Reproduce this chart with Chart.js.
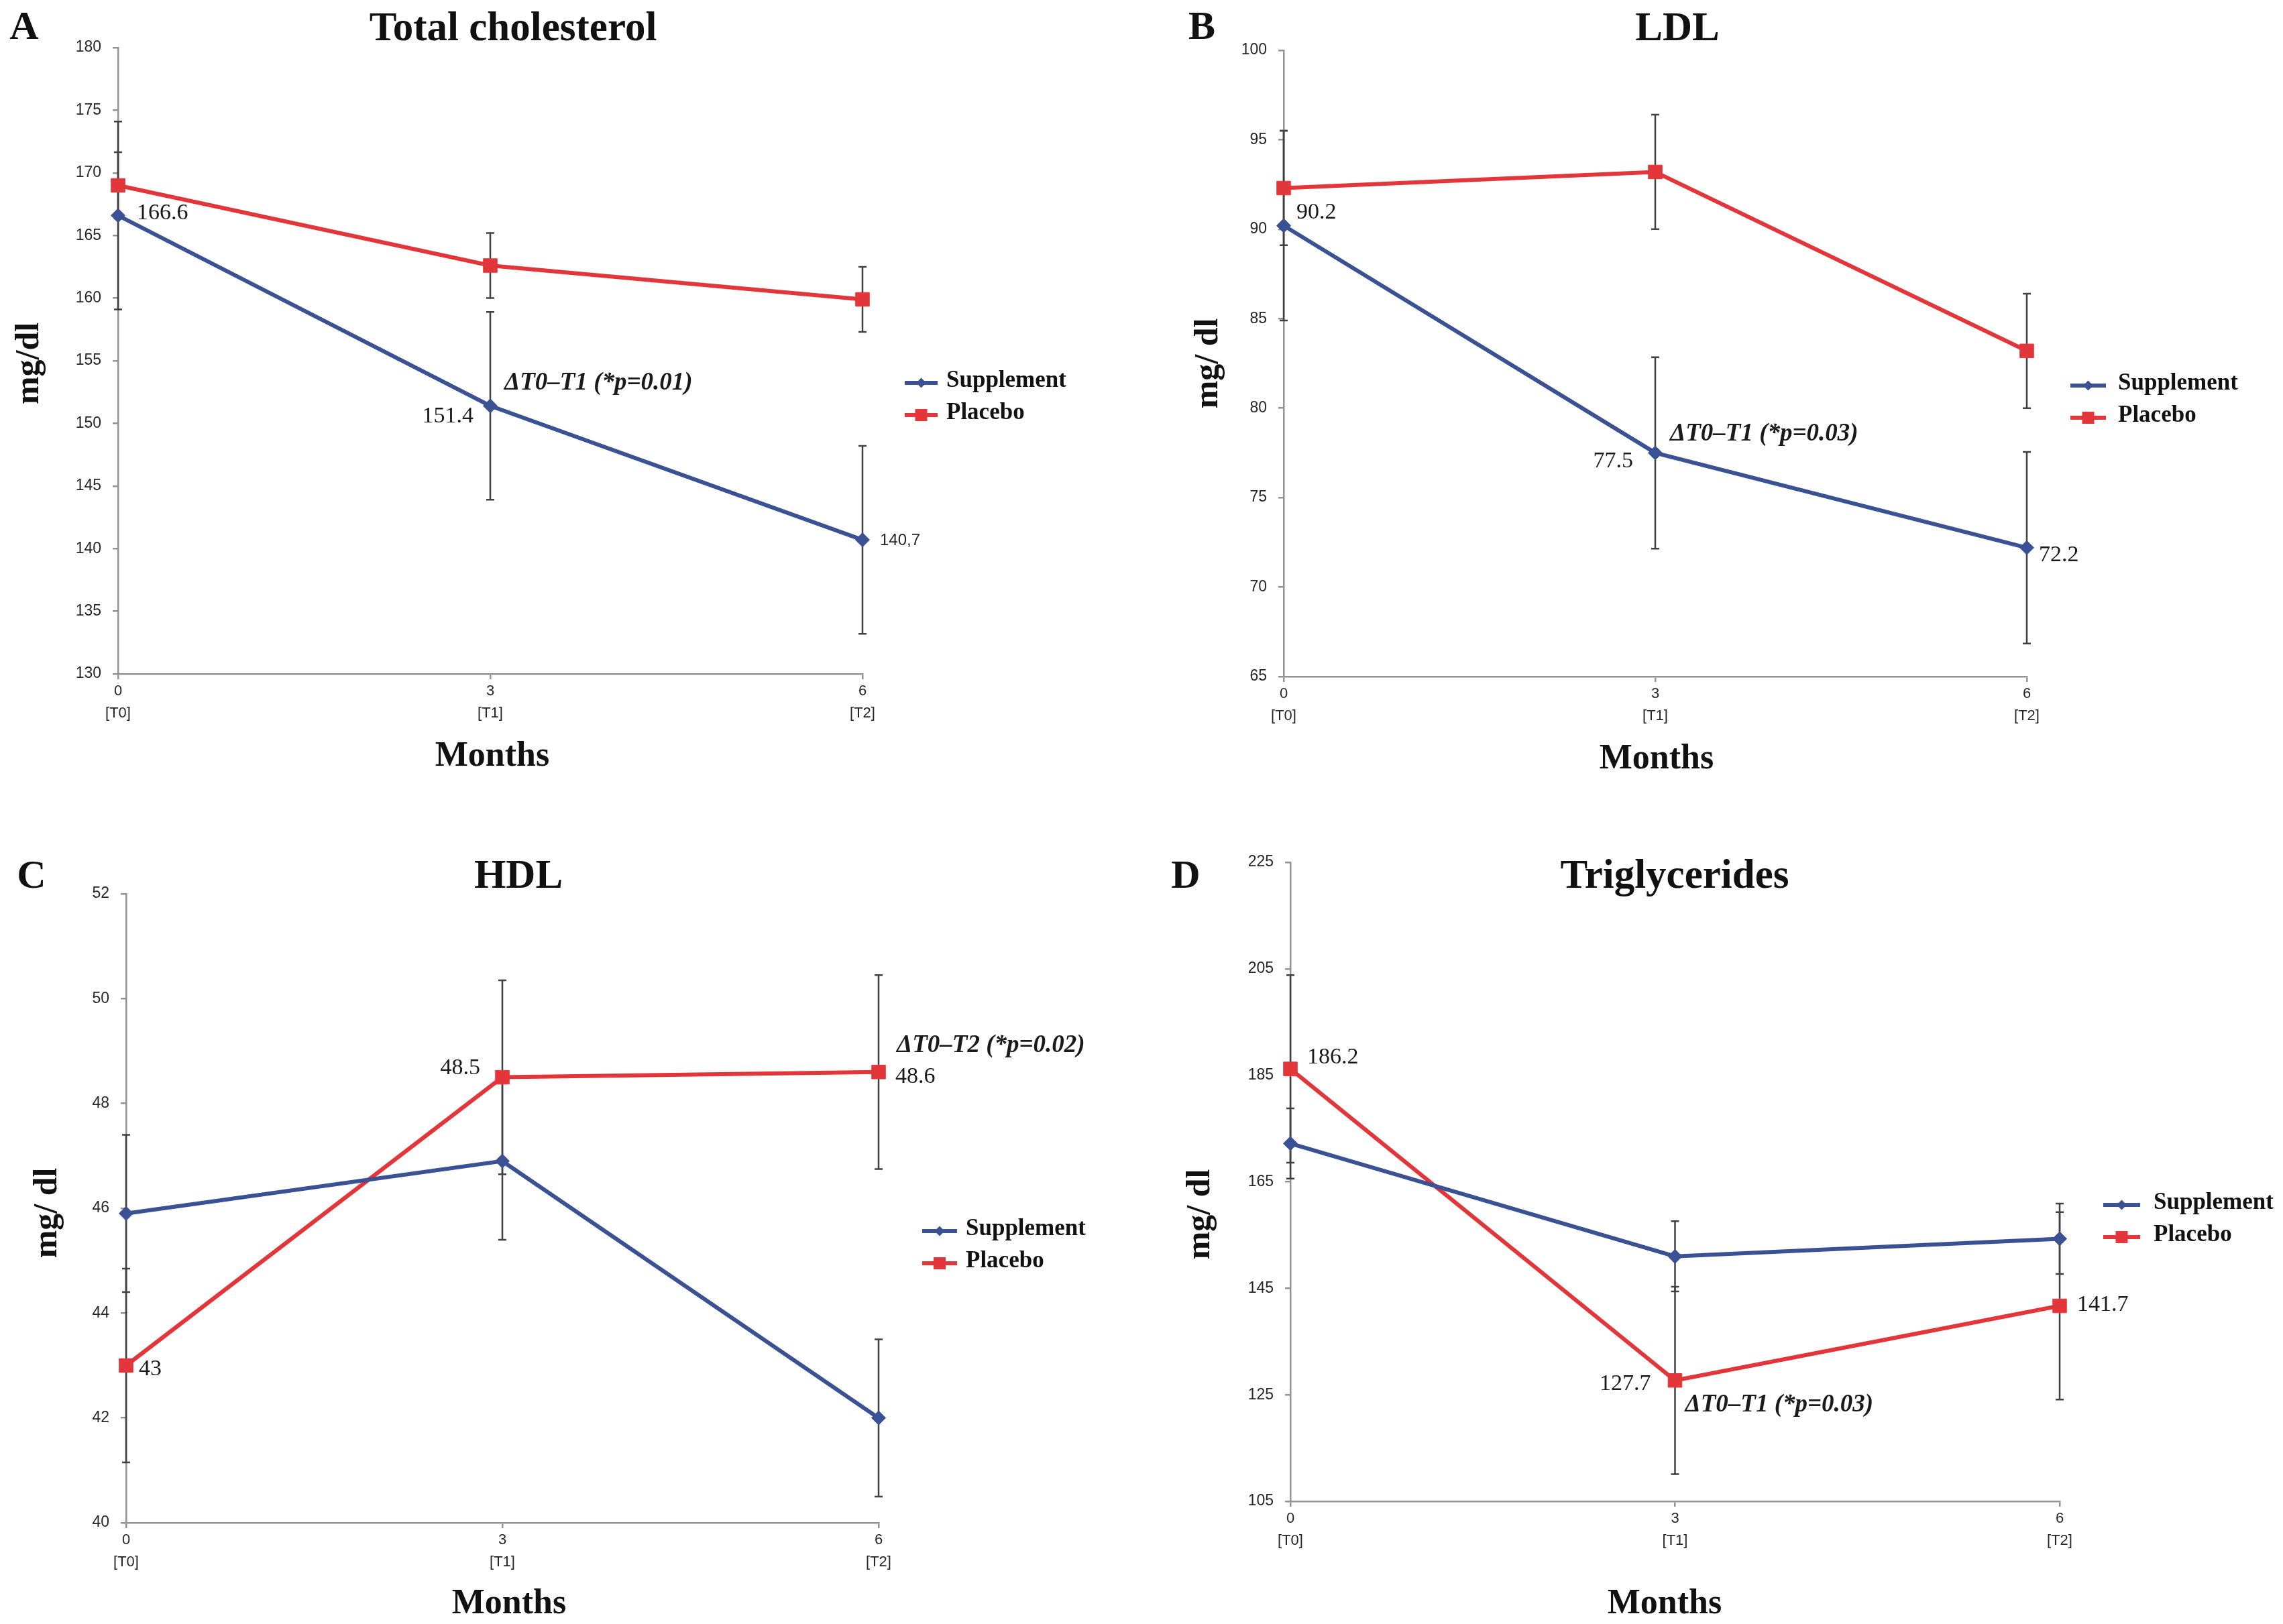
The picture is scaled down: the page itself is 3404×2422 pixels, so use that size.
<!DOCTYPE html>
<html lang="en">
<head>
<meta charset="UTF-8" />
<title>Lipid profile: Supplement vs Placebo</title>
<script src="https://cdn.jsdelivr.net/npm/chart.js"></script>
<style>
  html, body { margin: 0; padding: 0; background: #fff; }
  body { width: 3404px; height: 2422px; position: relative; overflow: hidden; }
  canvas { position: absolute; }
</style>
</head>
<body>
<canvas id="cholChart" width="1702" height="1211" style="left:0px;top:0px"></canvas>
<canvas id="ldlChart" width="1702" height="1211" style="left:1702px;top:0px"></canvas>
<canvas id="hdlChart" width="1702" height="1211" style="left:0px;top:1211px"></canvas>
<canvas id="tgChart" width="1702" height="1211" style="left:1702px;top:1211px"></canvas>

<script>
  const months = [0, 3, 6];
  const timePoints = ["[T0]", "[T1]", "[T2]"];
  const seriesNames = ["Supplement", "Placebo"];

  // Total cholesterol (mg/dl)
  const cholTicks = [130, 135, 140, 145, 150, 155, 160, 165, 170, 175, 180];
  const cholSupplement = [166.6, 151.4, 140.7];
  const cholPlacebo = [169.0, 162.6, 159.9];
  const cholSupplementErr = [7.5, 7.5, 7.5];
  const cholPlaceboErr = [2.65, 2.6, 2.6];

  // LDL
  const ldlTicks = [65, 70, 75, 80, 85, 90, 95, 100];
  const ldlSupplement = [90.2, 77.5, 72.2];
  const ldlPlacebo = [92.3, 93.2, 83.2];
  const ldlSupplementErr = [5.3, 5.35, 5.35];
  const ldlPlaceboErr = [3.2, 3.2, 3.2];

  // HDL
  const hdlTicks = [40, 42, 44, 46, 48, 50, 52];
  const hdlSupplement = [45.9, 46.9, 42.0];
  const hdlPlacebo = [43.0, 48.5, 48.6];
  const hdlSupplementErr = [1.5, 1.5, 1.5];
  const hdlPlaceboErr = [1.85, 1.85, 1.85];

  // Triglycerides
  const tgTicks = [105, 125, 145, 165, 185, 205, 225];
  const tgSupplement = [172.2, 151.0, 154.3];
  const tgPlacebo = [186.2, 127.7, 141.7];
  const tgSupplementErr = [6.6, 6.6, 6.6];
  const tgPlaceboErr = [17.6, 17.6, 17.6];

  const BLUE = "#3A5193";
  const RED = "#E3363A";
  const AXIS = "#939393";
  const ERR = "#404040";
  const SERIF = "'Liberation Serif', 'Times New Roman', serif";
  const SANS = "'Liberation Sans', Arial, sans-serif";

  const panels = {
    cholChart: {
      ticks: cholTicks, supp: cholSupplement, plac: cholPlacebo,
      err: [cholSupplementErr, cholPlaceboErr],
      pad: { left: 26, top: 71, right: 416, bottom: 106 },
      letter: { text: "A", x: 36, y: 58 },
      title: { text: "Total cholesterol", x: 765, y: 60 },
      xTitle: { x: 734, y: 1142 },
      yTitle: { text: "mg/dl", x: 57, y: 542 },
      legend: { x1: 1349, x2: 1398, ys: [571, 619], tx: 1411 },
      labels: [
        { ds: 0, i: 0, text: "166.6", dx: 28, dy: -3, align: "left" },
        { ds: 0, i: 1, text: "151.4", dx: -25, dy: 16, align: "right" },
        { ds: 0, i: 2, text: "140,7", dx: 26, dy: 1, align: "left", sans: true }
      ],
      note: { text: "\u0394T0\u2013T1 (*p=0.01)", x: 3, y: 153.2, dx: 21 }
    },
    ldlChart: {
      ticks: ldlTicks, supp: ldlSupplement, plac: ldlPlacebo,
      err: [ldlSupplementErr, ldlPlaceboErr],
      pad: { left: 62, top: 75, right: 382, bottom: 102 },
      letter: { text: "B", x: 90, y: 58 },
      title: { text: "LDL", x: 799, y: 60 },
      xTitle: { x: 768, y: 1146 },
      yTitle: { text: "mg/ dl", x: 113, y: 542 },
      legend: { x1: 1385, x2: 1438, ys: [575, 623], tx: 1456 },
      labels: [
        { ds: 0, i: 0, text: "90.2", dx: 19, dy: -19, align: "left" },
        { ds: 0, i: 1, text: "77.5", dx: -33, dy: 13, align: "right" },
        { ds: 0, i: 2, text: "72.2", dx: 18, dy: 11, align: "left" }
      ],
      note: { text: "\u0394T0\u2013T1 (*p=0.03)", x: 3, y: 78.55, dx: 22 }
    },
    hdlChart: {
      ticks: hdlTicks, supp: hdlSupplement, plac: hdlPlacebo,
      err: [hdlSupplementErr, hdlPlaceboErr],
      pad: { left: 38, top: 122, right: 392, bottom: 51 },
      letter: { text: "C", x: 47, y: 113 },
      title: { text: "HDL", x: 773, y: 113 },
      xTitle: { x: 759, y: 1195 },
      yTitle: { text: "mg/ dl", x: 84, y: 598 },
      legend: { x1: 1375, x2: 1427, ys: [625, 673], tx: 1440 },
      labels: [
        { ds: 1, i: 1, text: "48.5", dx: -33, dy: -14, align: "right" },
        { ds: 1, i: 2, text: "48.6", dx: 25, dy: 7, align: "left" },
        { ds: 1, i: 0, text: "43", dx: 19, dy: 6, align: "left" }
      ],
      note: { text: "\u0394T0\u2013T2 (*p=0.02)", x: 6, y: 49.1, dx: 27 }
    },
    tgChart: {
      ticks: tgTicks, supp: tgSupplement, plac: tgPlacebo,
      err: [tgSupplementErr, tgPlaceboErr],
      pad: { left: 72, top: 75, right: 333, bottom: 83 },
      letter: { text: "D", x: 66, y: 113 },
      title: { text: "Triglycerides", x: 795, y: 113 },
      xTitle: { x: 780, y: 1195 },
      yTitle: { text: "mg/ dl", x: 101, y: 600 },
      legend: { x1: 1434, x2: 1489, ys: [586, 634], tx: 1509 },
      labels: [
        { ds: 1, i: 0, text: "186.2", dx: 25, dy: -17, align: "left" },
        { ds: 1, i: 1, text: "127.7", dx: -36, dy: 5, align: "right" },
        { ds: 1, i: 2, text: "141.7", dx: 26, dy: -1, align: "left" }
      ],
      note: { text: "\u0394T0\u2013T1 (*p=0.03)", x: 3, y: 123.1, dx: 15 }
    }
  };

  function drawText(ctx, str, x, y, font, align, baseline, color) {
    ctx.save();
    ctx.font = font;
    ctx.textAlign = align;
    ctx.textBaseline = baseline;
    ctx.fillStyle = color || "#111";
    ctx.fillText(str, x, y);
    ctx.restore();
  }

  function drawMarker(ctx, style, x, y, r, color) {
    ctx.save();
    ctx.fillStyle = color;
    ctx.beginPath();
    if (style === "rectRot") {
      ctx.moveTo(x, y - r);
      ctx.lineTo(x + r, y);
      ctx.lineTo(x, y + r);
      ctx.lineTo(x - r, y);
      ctx.closePath();
    } else {
      ctx.rect(x - r, y - r, 2 * r, 2 * r);
    }
    ctx.fill();
    ctx.restore();
  }

  const decor = {
    id: "decor",
    beforeDatasetsDraw(chart) {
      const p = panels[chart.canvas.id];
      const ctx = chart.ctx;
      const xs = chart.scales.x, ys = chart.scales.y;
      const vals = [p.supp, p.plac];
      ctx.save();
      ctx.strokeStyle = ERR;
      ctx.lineWidth = 2.5;
      vals.forEach((series, di) => {
        series.forEach((v, i) => {
          const e = p.err[di][i];
          const x = xs.getPixelForValue(months[i]);
          const top = ys.getPixelForValue(v + e);
          const bot = ys.getPixelForValue(v - e);
          ctx.beginPath();
          ctx.moveTo(x, top); ctx.lineTo(x, bot);
          ctx.moveTo(x - 6, top); ctx.lineTo(x + 6, top);
          ctx.moveTo(x - 6, bot); ctx.lineTo(x + 6, bot);
          ctx.stroke();
        });
      });
      ctx.restore();
    },
    afterDraw(chart) {
      const p = panels[chart.canvas.id];
      const ctx = chart.ctx;
      const xs = chart.scales.x, ys = chart.scales.y;

      drawText(ctx, p.letter.text, p.letter.x, p.letter.y, "bold 60px " + SERIF, "center", "alphabetic");
      drawText(ctx, p.title.text, p.title.x, p.title.y, "bold 61px " + SERIF, "center", "alphabetic");
      drawText(ctx, "Months", p.xTitle.x, p.xTitle.y, "bold 52px " + SERIF, "center", "alphabetic");

      ctx.save();
      ctx.translate(p.yTitle.x, p.yTitle.y);
      ctx.rotate(-Math.PI / 2);
      drawText(ctx, p.yTitle.text, 0, 0, "bold 50px " + SERIF, "center", "alphabetic");
      ctx.restore();

      // legend
      chart.data.datasets.forEach((ds, di) => {
        const y = p.legend.ys[di];
        ctx.save();
        ctx.strokeStyle = ds.borderColor;
        ctx.lineWidth = 6;
        ctx.beginPath();
        ctx.moveTo(p.legend.x1, y);
        ctx.lineTo(p.legend.x2, y);
        ctx.stroke();
        ctx.restore();
        const cx = (p.legend.x1 + p.legend.x2) / 2;
        drawMarker(ctx, ds.pointStyle, cx, y, ds.pointStyle === "rectRot" ? 7.5 : 9, ds.borderColor);
        drawText(ctx, ds.label, p.legend.tx, y + 6, "bold 35px " + SERIF, "left", "alphabetic");
      });

      // value labels
      p.labels.forEach(l => {
        const pt = chart.getDatasetMeta(l.ds).data[l.i];
        const font = l.sans ? "24px " + SANS : "34px " + SERIF;
        drawText(ctx, l.text, pt.x + l.dx, pt.y + l.dy, font, l.align, "middle", l.sans ? "#262626" : "#1a1a1a");
      });

      // significance note
      const n = p.note;
      drawText(ctx, n.text, xs.getPixelForValue(n.x) + n.dx, ys.getPixelForValue(n.y),
        "italic bold 37px " + SERIF, "left", "middle", "#1a1a1a");
    }
  };

  function makePanel(id) {
    const p = panels[id];
    new Chart(document.getElementById(id), {
      type: "line",
      data: {
        datasets: [
          {
            label: seriesNames[0],
            data: months.map((m, i) => ({ x: m, y: p.supp[i] })),
            borderColor: BLUE, backgroundColor: BLUE,
            borderWidth: 6, pointStyle: "rectRot", pointRadius: 10.5,
            pointBorderWidth: 1, tension: 0, clip: false
          },
          {
            label: seriesNames[1],
            data: months.map((m, i) => ({ x: m, y: p.plac[i] })),
            borderColor: RED, backgroundColor: RED,
            borderWidth: 6, pointStyle: "rect", pointRadius: 14.5,
            pointBorderWidth: 1, tension: 0, clip: false
          }
        ]
      },
      options: {
        responsive: false,
        animation: false,
        devicePixelRatio: 1,
        layout: { padding: p.pad },
        plugins: { legend: { display: false }, tooltip: { enabled: false }, title: { display: false } },
        scales: {
          x: {
            type: "linear", min: months[0], max: months[months.length - 1],
            afterBuildTicks: s => { s.ticks = months.map(v => ({ value: v })); },
            afterFit: s => { s.height = 100; },
            ticks: {
              padding: 1,
              color: "#262626",
              font: { family: SANS, size: 22, lineHeight: 1.5 },
              callback: (v, i) => [String(months[i]), timePoints[i]]
            },
            grid: { drawOnChartArea: false, drawTicks: true, tickLength: 8, color: AXIS, lineWidth: 2.5 },
            border: { display: true, color: AXIS, width: 2.5 }
          },
          y: {
            min: p.ticks[0], max: p.ticks[p.ticks.length - 1],
            afterBuildTicks: s => { s.ticks = p.ticks.map(v => ({ value: v })); },
            afterFit: s => { s.width = 150; },
            ticks: { padding: 17, color: "#262626", font: { family: SANS, size: 23 } },
            grid: { drawOnChartArea: false, drawTicks: true, tickLength: 8, color: AXIS, lineWidth: 2.5 },
            border: { display: true, color: AXIS, width: 2.5 }
          }
        }
      },
      plugins: [decor]
    });
  }

  Object.keys(panels).forEach(makePanel);
</script>
</body>
</html>
